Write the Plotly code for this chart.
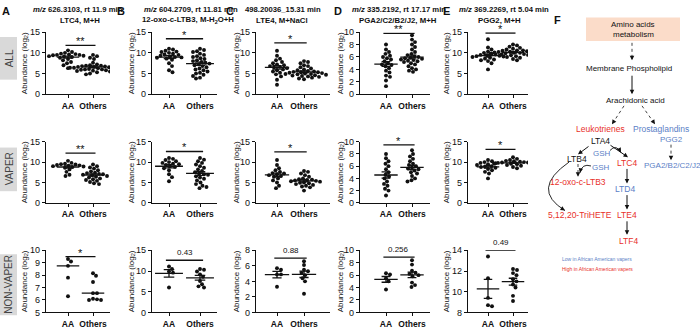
import plotly.graph_objects as go
import numpy as np

W, H = 700, 330
FONT = "Liberation Sans, Arial, sans-serif"

# ---------------- data ----------------
GROUPS = ["AA", "Others"]
ROW_NAMES = ["ALL", "VAPER", "NON-VAPER"]
LETTERS = ["A", "B", "C", "D", "E"]
TITLES_1 = ["<i>m/z</i> 626.3103, rt 11.9 min", "<i>m/z</i> 604.2709, rt 11.81 min",
            "498.20036_15.31 min", "<i>m/z</i> 335.2192, rt 17.17 min",
            "<i>m/z</i> 369.2269, rt 5.04 min"]
TITLES_2 = ["LTC4, M+H", "12-oxo-c-LTB3, M-H<sub>2</sub>O+H", "LTE4, M+NaCl",
            "PGA2/C2/B2/J2, M+H", "PGG2, M+H"]

# ALL
all_A_aa = [10.6, 10.2, 10.0, 9.8, 9.7, 9.6, 9.5, 9.5, 9.4, 9.3, 9.2, 9.1, 9.0, 8.8, 8.5, 8.2, 7.8, 7.5, 7.0, 6.3]
all_A_ot = [9.5, 9.2, 8.8, 8.5, 7.6, 7.2, 6.9, 6.7, 6.6, 6.4, 7.0, 6.8, 6.6, 6.5, 6.4, 6.3, 6.2, 6.1, 6.0, 6.0,
            5.9, 5.8, 5.7, 5.6, 5.5, 5.3, 5.0, 4.8, 6.9, 6.4]
all_B_aa = [11.0, 10.8, 10.5, 10.3, 10.2, 10.0, 9.8, 9.6, 9.5, 9.3, 9.1, 9.0, 8.9, 8.8, 8.6, 8.3, 7.5, 6.8, 5.8, 5.3]
all_B_ot = [11.0, 10.7, 10.4, 10.2, 9.8, 9.5, 9.2, 9.0, 8.7, 8.5, 8.2, 8.0, 7.8, 7.6, 7.4, 7.2, 7.0, 6.8, 6.5,
            6.2, 6.0, 5.8, 5.5, 5.2, 5.0, 4.7, 4.4, 4.0, 3.8]
all_C_aa = [10.5, 9.3, 8.6, 8.2, 7.8, 7.5, 7.2, 7.0, 6.8, 6.6, 6.5, 6.3, 6.0, 5.8, 5.5, 5.2, 4.8, 4.3, 3.5, 2.3]
all_C_ot = [8.0, 7.8, 7.5, 7.0, 6.8, 6.5, 6.2, 6.0, 5.8, 5.6, 5.4, 5.3, 5.2, 5.1, 5.0, 4.9, 4.8, 4.7, 4.6, 4.5,
            4.4, 4.3, 4.2, 4.0, 3.8, 3.6, 5.5, 4.9, 5.3]
all_D_aa = [8.0, 7.2, 6.8, 6.5, 6.2, 6.0, 5.8, 5.6, 5.3, 5.0, 4.8, 4.7, 4.5, 4.2, 3.8, 3.5, 3.0, 2.8, 2.2, 1.3]
all_D_ot = [9.5, 8.8, 8.4, 8.0, 7.6, 7.2, 6.8, 6.5, 6.3, 6.1, 6.0, 5.9, 5.8, 5.7, 5.6, 5.5, 5.4, 5.3, 5.2, 5.0,
            4.8, 4.5, 4.2, 4.0, 3.8, 3.6]
all_E_aa = [13.3, 11.3, 10.8, 10.3, 10.0, 9.8, 9.6, 9.5, 9.4, 9.3, 9.2, 9.1, 9.0, 8.8, 8.6, 8.4, 8.2, 8.0, 7.5, 6.0]
all_E_ot = [12.0, 11.8, 11.5, 11.2, 11.0, 10.8, 10.6, 10.6, 10.5, 10.4, 10.3, 10.2, 10.2, 10.1, 10.0, 10.0,
            9.9, 9.9, 9.8, 9.7, 9.6, 9.5, 9.4, 9.2, 9.0, 8.8, 8.5, 8.2]

# VAPER
vap_A_aa = [10.3, 9.8, 9.6, 9.5, 9.4, 9.3, 9.2, 9.1, 9.0, 8.9, 8.8, 8.6, 8.2, 7.6, 6.9, 6.6]
vap_A_ot = [9.4, 9.0, 8.7, 8.4, 8.0, 7.7, 7.4, 7.3, 7.1, 7.0, 6.9, 6.8, 6.6, 6.4, 6.2, 6.0, 5.8, 5.6, 5.4,
            5.1, 4.8, 4.6]
vap_B_aa = [11.0, 10.8, 10.5, 10.2, 10.0, 9.8, 9.6, 9.5, 9.3, 9.0, 8.8, 8.5, 8.0, 7.0, 6.3, 5.3]
vap_B_ot = [11.0, 10.6, 10.2, 9.8, 9.4, 9.0, 8.6, 8.2, 7.8, 7.5, 7.2, 7.0, 6.9, 6.5, 6.2, 5.9, 5.5, 5.0, 4.6,
            4.2, 3.9, 3.6]
vap_C_aa = [10.5, 9.3, 8.5, 8.0, 7.6, 7.3, 7.2, 7.0, 6.8, 6.6, 6.4, 6.0, 5.5, 5.0, 4.2, 3.6]
vap_C_ot = [7.8, 7.6, 7.2, 6.8, 6.4, 6.0, 5.8, 5.7, 5.6, 5.5, 5.4, 5.3, 5.2, 5.0, 4.9, 4.8, 4.6, 4.4, 4.2,
            4.0, 3.8, 3.0]
vap_D_aa = [8.0, 7.3, 6.8, 6.4, 6.0, 5.5, 5.0, 4.6, 4.3, 4.0, 3.5, 3.1, 2.8, 2.3, 2.0, 1.2]
vap_D_ot = [8.6, 8.0, 7.6, 7.2, 6.8, 6.4, 6.2, 6.0, 5.8, 5.6, 5.5, 5.3, 5.0, 4.8, 4.4, 4.0, 3.7, 3.5]
vap_E_aa = [10.5, 10.2, 10.0, 9.8, 9.7, 9.5, 9.3, 9.0, 8.9, 8.8, 8.6, 8.3, 8.0, 7.6, 7.2, 6.0]
vap_E_ot = [11.2, 10.8, 10.5, 10.3, 10.2, 10.1, 10.0, 9.9, 9.9, 9.8, 9.7, 9.6, 9.6, 9.5, 9.3, 9.1, 8.8, 8.5]

# NON-VAPER
non_A_aa = [9.3, 9.1, 8.75, 7.8, 6.3]
non_A_ot = [8.15, 7.95, 7.45, 6.55, 6.55, 6.1, 6.05, 6.0, 6.0]
non_B_aa = [11.1, 10.5, 9.9, 9.6, 6.0]
non_B_ot = [10.5, 10.3, 9.9, 9.2, 8.6, 7.6, 6.8, 6.3, 6.0]
non_C_aa = [5.7, 5.5, 4.9, 4.9, 3.3]
non_C_ot = [6.6, 6.1, 5.5, 5.3, 5.1, 4.8, 4.4, 4.0, 2.4]
non_D_aa = [6.3, 6.1, 5.5, 5.0, 3.7]
non_D_ot = [8.4, 7.7, 6.7, 6.4, 6.2, 6.0, 5.8, 4.8, 4.4, 4.1]
non_E_aa = [13.4, 11.3, 9.4, 8.7, 8.6]
non_E_ot = [12.2, 12.1, 11.8, 11.6, 11.2, 11.0, 10.7, 10.4, 9.6, 9.1]

SIG_ALL = ["**", "*", "*", "**", "*"]
SIG_VAPER = ["**", "*", "*", "*", "*"]
SIG_NONVAPER = ["*", "0.43", "0.88", "0.256", "0.49"]

DATA = [
    [(all_A_aa, all_A_ot), (all_B_aa, all_B_ot), (all_C_aa, all_C_ot), (all_D_aa, all_D_ot), (all_E_aa, all_E_ot)],
    [(vap_A_aa, vap_A_ot), (vap_B_aa, vap_B_ot), (vap_C_aa, vap_C_ot), (vap_D_aa, vap_D_ot), (vap_E_aa, vap_E_ot)],
    [(non_A_aa, non_A_ot), (non_B_aa, non_B_ot), (non_C_aa, non_C_ot), (non_D_aa, non_D_ot), (non_E_aa, non_E_ot)],
]
SIGS = [SIG_ALL, SIG_VAPER, SIG_NONVAPER]

# ---------------- layout config (pixels) ----------------
COLS = [(46, 110, 68, 93), (152, 217, 169, 200), (256, 330, 277, 304), (360, 430, 386, 412), (468, 528, 488, 513)]
ROWS = [(28, 92), (141, 204), (253, 317)]
YSPEC = [
    [(0, 15, 5), (0, 15, 5), (0, 15, 5), (0, 10, 2), (0, 15, 5)],
    [(0, 15, 5), (0, 15, 5), (0, 15, 5), (0, 10, 2), (0, 15, 5)],
    [(5, 10, 1), (0, 15, 5), (0, 8, 2), (0, 10, 2), (8, 14, 2)],
]
SIG_Y = [
    [11.8, 13.4, 12.4, 9.8, 14.8],
    [12.2, 12.6, 12.5, 9.5, 13.1],
    [9.5, 12.6, 7.0, 8.9, 14.0],
]
YTITLE_X = [25, 132, 237, 341, 447]
LETTER_X = [6, 121, 230, 338, 446]
TITLE_CX1 = [78, 191, 283, 399, 504]
TITLE_CX2 = [80, 188, 282, 398, 499]


def X(px):
    return px / W


def Y(py):
    return 1 - py / H


def swarm(vals, ypx, d=3.9, step=0.5):
    vals = np.asarray(vals, float)
    ys = vals * ypx
    order = np.argsort(-vals, kind="stable")
    placed = []
    xs = np.zeros(len(vals))
    for i in order:
        k = 0
        found = None
        while found is None:
            cands = [0.0] if k == 0 else [k * step, -k * step]
            for c in cands:
                if all((c - px) ** 2 + (ys[i] - py) ** 2 >= d * d for px, py in placed):
                    found = c
                    break
            k += 1
        xs[i] = found
        placed.append((found, ys[i]))
    return xs


fig = go.Figure()
layout = dict(width=W, height=H, margin=dict(l=0, r=0, t=0, b=0), paper_bgcolor="white",
              plot_bgcolor="white", showlegend=False, font=dict(family=FONT, color="#111"))
annotations = []
shapes = []


def ptxt(x, y, t, color="#111", size=8, angle=0):
    annotations.append(dict(x=X(x), y=Y(y), xref="paper", yref="paper", text=t, showarrow=False,
                            xanchor="center", yanchor="middle", textangle=angle,
                            font=dict(size=size, color=color)))


n = 0
for r in range(3):
    for c in range(5):
        n += 1
        xa = "xaxis" if n == 1 else f"xaxis{n}"
        ya = "yaxis" if n == 1 else f"yaxis{n}"
        xr = "x" if n == 1 else f"x{n}"
        yr = "y" if n == 1 else f"y{n}"
        s, e, paa, pot = COLS[c]
        unit = pot - paa
        x0 = -(paa - s) / unit
        x1 = (e - paa) / unit
        top, bot = ROWS[r]
        lo, hi, dt = YSPEC[r][c]
        ypx = (bot - top) / (hi - lo)
        layout[xa] = dict(domain=[X(s), X(e)], range=[x0, x1], anchor=yr, showgrid=False, zeroline=False,
                          showline=True, linecolor="#111", linewidth=1.2, ticks="outside", ticklen=3,
                          tickwidth=1.2, tickcolor="#111", tickvals=[0, 1],
                          ticktext=["<b>AA</b>", "<b>Others</b>"], tickfont=dict(size=8.5, color="#111"),
                          fixedrange=True)
        layout[ya] = dict(domain=[Y(bot), Y(top)], range=[lo, hi], anchor=xr, showgrid=False, zeroline=False,
                          showline=True, linecolor="#111", linewidth=1.2, ticks="outside", ticklen=3,
                          tickwidth=1.2, tickcolor="#111", dtick=dt, tick0=lo,
                          tickfont=dict(size=9, color="#111"), fixedrange=True)
        for g, vals in enumerate(DATA[r][c]):
            vals = np.asarray(vals, float)
            off = swarm(vals, ypx) / unit
            fig.add_trace(go.Scatter(x=g + off, y=vals, mode="markers", xaxis=xr, yaxis=yr,
                                     marker=dict(size=3.9, color="#111"), hoverinfo="skip"))
            if r == 2 and c == 0:
                m = float(np.median(vals))
                lx = [g - 0.45, g + 0.45]
                ly = [m, m]
            else:
                m = float(vals.mean())
                se = float(vals.std(ddof=1) / np.sqrt(len(vals)))
                lx = [g - 0.45, g + 0.45, None, g, g, None, g - 0.17, g + 0.17, None, g - 0.17, g + 0.17]
                ly = [m, m, None, m - se, m + se, None, m - se, m - se, None, m + se, m + se]
            fig.add_trace(go.Scatter(x=lx, y=ly, mode="lines", xaxis=xr, yaxis=yr,
                                     line=dict(color="#111", width=1.3), hoverinfo="skip"))
        sy = SIG_Y[r][c]
        fig.add_trace(go.Scatter(x=[-0.1, 1.1], y=[sy, sy], mode="lines", xaxis=xr, yaxis=yr,
                                 line=dict(color="#111", width=1.3), hoverinfo="skip"))
        lab = SIGS[r][c]
        star = "*" in lab
        annotations.append(dict(x=0.5, y=sy, xref=xr, yref=yr, text=lab, showarrow=False,
                                xanchor="center", yanchor="bottom", yshift=(-4 if star else 1),
                                font=dict(size=(11 if star else 8), color="#111")))
        ptxt(YTITLE_X[c], (top + bot) / 2, "Abundance (log<sub>2</sub>)", size=8, angle=-90)
        if r == 0:
            ptxt(TITLE_CX1[c], 5, "<b>" + TITLES_1[c] + "</b>", size=7.7)
            ptxt(TITLE_CX2[c], 15.5, "<b>" + TITLES_2[c] + "</b>", size=7.8)
            ptxt(LETTER_X[c], 6, "<b>" + LETTERS[c] + "</b>", size=11)

# row label boxes
for (y0, y1), name in zip([(33, 77), (147, 192), (257, 320)], ROW_NAMES):
    shapes.append(dict(type="rect", xref="paper", yref="paper", x0=X(0), x1=X(17), y0=Y(y1), y1=Y(y0),
                       fillcolor="#d9d9d9", line=dict(width=0), layer="below"))
    ptxt(9, (y0 + y1) / 2, name, "#444", 10, -90)

# ---------------- panel F ----------------
RED = "#e8302a"
BLUE = "#5b80c6"


def arrow(x0, y0, x1, y1, dash=None):
    if dash:
        L = np.hypot(x1 - x0, y1 - y0)
        ux, uy = (x1 - x0) / L, (y1 - y0) / L
        shapes.append(dict(type="line", xref="paper", yref="paper", x0=X(x0), y0=Y(y0),
                           x1=X(x1 - 3 * ux), y1=Y(y1 - 3 * uy), line=dict(color="#111", width=0.8, dash=dash)))
        ax, ay = -5 * ux, -5 * uy
    else:
        ax, ay = x0 - x1, y0 - y1
    annotations.append(dict(x=X(x1), y=Y(y1), xref="paper", yref="paper", text="", showarrow=True,
                            ax=ax, ay=ay, axref="pixel", ayref="pixel", arrowhead=2, arrowsize=0.9,
                            arrowwidth=1, arrowcolor="#111", standoff=0))


def curve(x0, y0, cx, cy, x1, y1):
    shapes.append(dict(type="path", xref="paper", yref="paper",
                       path=f"M {X(x0)},{Y(y0)} Q {X(cx)},{Y(cy)} {X(x1)},{Y(y1)}",
                       line=dict(color="#111", width=0.9)))
    L = np.hypot(x1 - cx, y1 - cy)
    ux, uy = (x1 - cx) / L, (y1 - cy) / L
    annotations.append(dict(x=X(x1), y=Y(y1), xref="paper", yref="paper", text="", showarrow=True,
                            ax=-4 * ux, ay=-4 * uy, axref="pixel", ayref="pixel", arrowhead=2,
                            arrowsize=0.9, arrowwidth=1, arrowcolor="#111", standoff=0))


ptxt(557, 15, "<b>F</b>", size=11)
shapes.append(dict(type="rect", xref="paper", yref="paper", x0=X(586), x1=X(680), y0=Y(37), y1=Y(13),
                   fillcolor="#fbdcc9", line=dict(width=0), layer="below"))
ptxt(633, 20, "Amino acids")
ptxt(633, 30, "metabolism")
arrow(632, 39, 632, 57, dash="dot")
ptxt(629, 66, "Membrane Phospholipid")
arrow(632, 72, 632, 92)
ptxt(635, 98, "Arachidonic acid")
arrow(624, 104, 612, 123, dash="dot")
arrow(642, 104, 655, 123, dash="dot")
ptxt(600, 128, "Leukotrienes", RED, 8.5)
ptxt(661, 128, "Prostaglandins", BLUE, 8.5)
ptxt(671, 139, "PGG2", BLUE, 8)
ptxt(600, 140, "LTA4", "#111", 8.5)
arrow(590, 145, 578, 154)
arrow(609, 144, 628, 157)
ptxt(602, 153, "GSH", BLUE, 8)
curve(610, 150, 616, 143, 621, 152)
ptxt(577, 159, "LTB4", "#111", 8.5)
ptxt(627, 163, "LTC4", RED, 8.5)
ptxt(672, 166, "PGA2/B2/C2/J2", BLUE, 8)
arrow(671, 144, 671, 160, dash="dot")
ptxt(601, 168, "GSH", BLUE, 8)
curve(591, 166, 582, 163, 580, 173)
arrow(578, 164, 578, 177, dash="dot")
ptxt(578, 183, "12-oxo-c-LTB3", RED, 8.5)
arrow(627, 168, 627, 184)
ptxt(625, 190, "LTD4", BLUE, 8.5)
curve(569, 162, 530, 190, 565, 212)
arrow(627, 195, 627, 211)
ptxt(580, 217, "5,12,20-TriHETE", RED, 8.5)
ptxt(627, 217, "LTE4", RED, 8.5)
arrow(627, 222, 627, 237)
ptxt(628, 243, "LTF4", RED, 8.5)
ptxt(597, 262, "Low in African American vapers", BLUE, 5)
ptxt(597, 272, "High in African American vapers", RED, 5)

layout["annotations"] = annotations
layout["shapes"] = shapes
fig.update_layout(**layout)
fig.write_html("out.html", config={"displayModeBar": False},
               post_script="document.body.style.margin='0px';document.body.style.padding='0px';")
